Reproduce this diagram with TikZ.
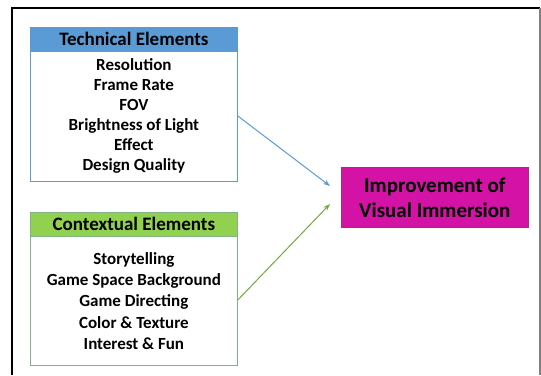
\documentclass[tikz,border=0pt]{standalone}
\usepackage{fontspec}
\setmainfont{Carlito}
\usetikzlibrary{arrows.meta}
\definecolor{techblue}{HTML}{5B9BD5}
\definecolor{ctxgreen}{HTML}{92D050}
\definecolor{ctxedge}{HTML}{7FB48A}
\definecolor{goalfill}{HTML}{D413A6}
\definecolor{goaledge}{HTML}{A0307F}
\tikzset{
  head/.style={draw=#1, fill=#1, line width=0.8pt, minimum width=207pt, minimum height=24pt,
    inner sep=0pt, font=\bfseries\fontsize{19}{20}\selectfont},
  listbox/.style={draw=#1, line width=0.8pt, minimum width=207pt, inner sep=0pt,
    align=center},
  goal/.style={draw=goaledge, fill=goalfill, line width=0.6pt, minimum width=187pt, minimum height=60pt,
    inner sep=0pt, align=center, font=\bfseries\fontsize{21}{25}\selectfont},
  link/.style={line width=1pt, -{Stealth[length=7pt,width=5pt]}}
}
\begin{document}
\begin{tikzpicture}[x=1pt,y=-1pt]
\useasboundingbox (0,0) rectangle (541,375);
% frame
\draw[line width=1.2pt] (12,375) -- (12,8) -- (540,8);
\draw[gray, line width=1.2pt] (540,8) -- (540,375);
% technical elements
\node[head=techblue, anchor=north west] (th) at (30,27) {Technical Elements};
\node[listbox=techblue, minimum height=130pt, anchor=north west,
      font=\bfseries\fontsize{17}{20}\selectfont] (tb) at (30,51)
  {Resolution\\Frame Rate\\FOV\\Brightness of Light\\Effect\\Design Quality};
% contextual elements
\node[head=ctxgreen, anchor=north west, draw=ctxedge] (ch) at (30,212) {Contextual Elements};
\node[listbox=ctxedge, minimum height=129pt, anchor=north west,
      font=\bfseries\fontsize{17}{21.2}\selectfont] (cb) at (30,236)
  {Storytelling\\Game Space Background\\Game Directing\\Color \& Texture\\Interest \& Fun};
% goal
\node[goal, anchor=north west] (goal) at (341,167) {Improvement of\\Visual Immersion};
% connectors
\coordinate (tin) at (330,186);
\coordinate (cin) at (330,204);
\draw[link, techblue] (tb.east |- 0,116) -- (tin);
\draw[link, ctxgreen!80!black] (cb.east |- 0,300) -- (cin);
\end{tikzpicture}
\end{document}
